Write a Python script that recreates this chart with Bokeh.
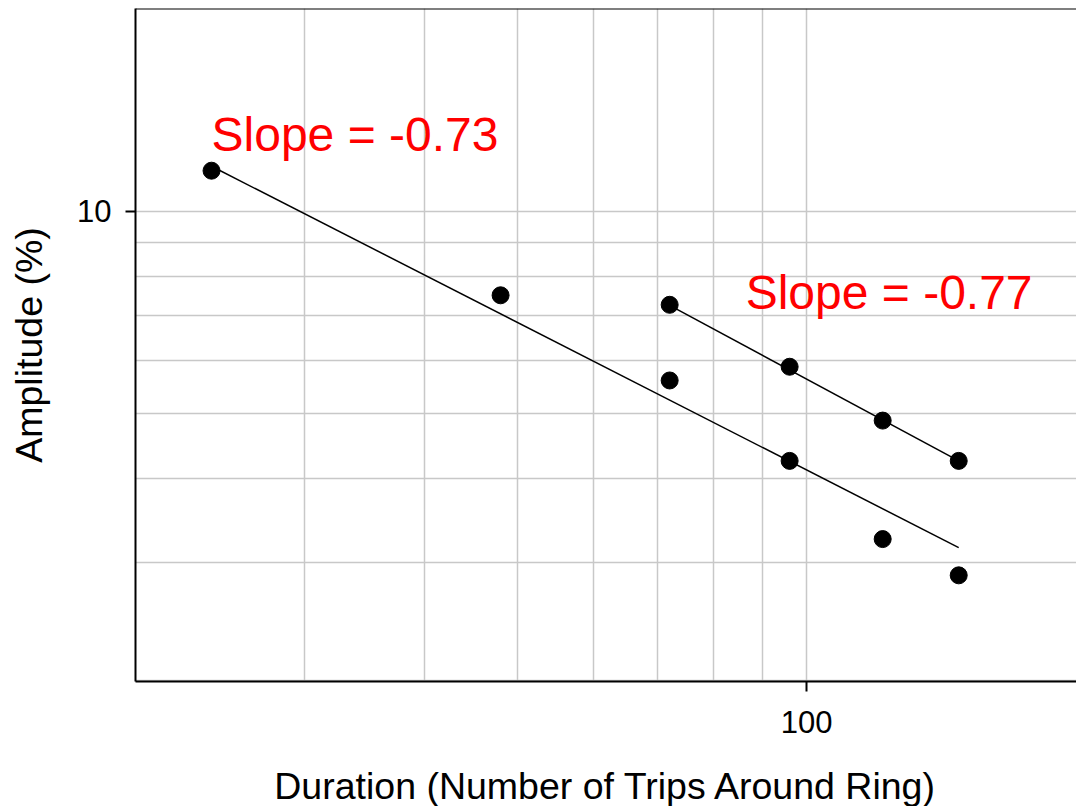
from bokeh.plotting import figure
from bokeh.models import FixedTicker, Label, Span
from bokeh.embed import file_html
from bokeh.resources import INLINE
import numpy as np

# Data
dur_a = [24, 48, 72, 96, 120, 144]
amp_a = [11.5, 7.5, 5.6, 4.25, 3.25, 2.87]
dur_b = [72, 96, 120, 144]
amp_b = [7.26, 5.87, 4.88, 4.25]

fit_slopes = [-0.73, -0.77]
fit_coefs = [118.8, 195.1]
slope_labels = ["Slope = -0.73", "Slope = -0.77"]

x_major = [100]
x_minor = [20, 30, 40, 50, 60, 70, 80, 90]
y_major = [10]
y_minor = [2, 3, 4, 5, 6, 7, 8, 9]

FONT = "Liberation Sans"

p = figure(x_axis_type="log", y_axis_type="log",
           x_range=(20.0, 191.0), y_range=(1.994, 20.06),
           frame_width=941, frame_height=673,
           min_border_left=135, min_border_top=8, min_border_right=0, min_border_bottom=125,
           output_backend="svg", toolbar_location=None)
p.outline_line_color = None
p.background_fill_color = "white"
p.border_fill_color = "white"

p.xaxis.ticker = FixedTicker(ticks=x_major, minor_ticks=x_minor)
p.yaxis.ticker = FixedTicker(ticks=y_major, minor_ticks=y_minor)
p.xaxis.major_label_overrides = {100: "100"}
p.yaxis.major_label_overrides = {10: "10"}

for ax in (p.xaxis, p.yaxis):
    ax.axis_line_color = "black"
    ax.axis_line_width = 2
    ax.major_tick_line_color = "black"
    ax.major_tick_line_width = 2
    ax.major_tick_out = 10
    ax.major_tick_in = 0
    ax.minor_tick_line_color = None
    ax.major_label_text_font = FONT
    ax.major_label_text_font_size = "31px"
    ax.major_label_text_color = "black"
    ax.axis_label_text_font = FONT
    ax.axis_label_text_font_size = "37.5px"
    ax.axis_label_text_font_style = "normal"
    ax.axis_label_text_color = "black"

p.xaxis.axis_label = "Duration (Number of Trips Around Ring)"
p.yaxis.axis_label = "Amplitude (%)"
p.xaxis.major_label_standoff = 19
p.yaxis.major_label_standoff = 14
p.xaxis.axis_label_standoff = 29
p.yaxis.axis_label_standoff = 24

for g in (p.xgrid, p.ygrid):
    g.grid_line_color = "#c8c8c8"
    g.grid_line_width = 1.5
    g.minor_grid_line_color = "#c8c8c8"
    g.minor_grid_line_width = 1.5

p.add_layout(Span(location=20.06, dimension="width", line_color="black", line_width=2))

# fit lines
for xs, slope, coef in ((dur_a, fit_slopes[0], fit_coefs[0]), (dur_b, fit_slopes[1], fit_coefs[1])):
    fx = np.array([min(xs), max(xs)], dtype=float)
    fy = coef * fx ** slope
    p.line(fx, fy, line_color="black", line_width=1.5)

p.scatter(dur_a, amp_a, size=17, color="black")
p.scatter(dur_b, amp_b, size=17, color="black")

lab_pos = [(24.0, 12.33), (86.4, 7.17)]
for (lx, ly), txt in zip(lab_pos, slope_labels):
    p.add_layout(Label(x=lx, y=ly, y_offset=16, text=txt, text_color="red", text_font=FONT,
                       text_font_size="48px", text_align="left", text_baseline="alphabetic"))

open("out.html", "w").write(file_html(p, INLINE))
